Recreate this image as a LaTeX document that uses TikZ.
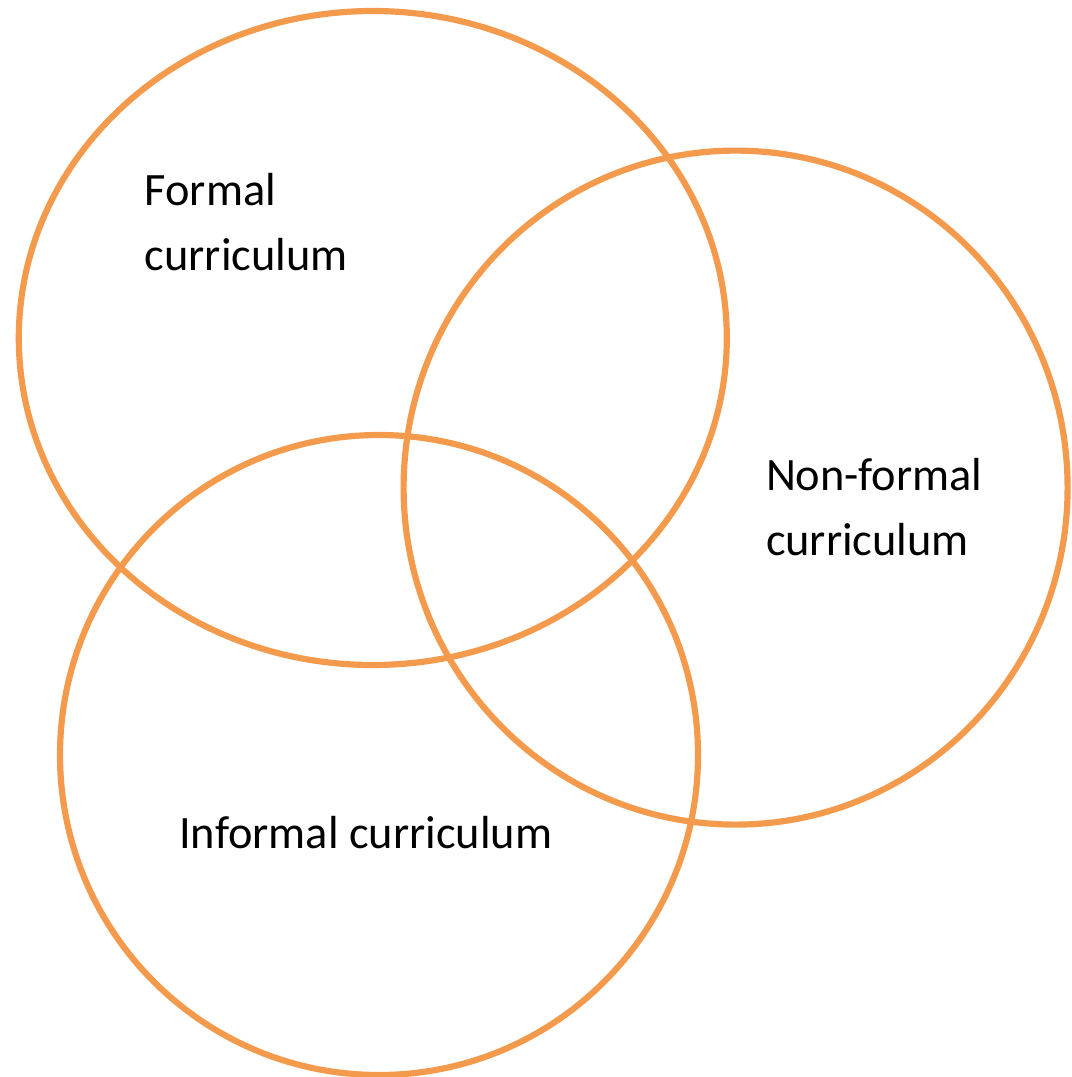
\documentclass[tikz,border=0pt]{standalone}
\usepackage{fontspec}
\setmainfont{Carlito}
\usetikzlibrary{shapes.geometric}
\definecolor{ringorange}{RGB}{243,154,77}

\begin{document}
\begin{tikzpicture}[
    ring/.style={ellipse, draw=ringorange, line width=4.4pt, inner sep=0pt, outer sep=0pt},
    label/.style={inner sep=0pt, outer sep=0pt, align=left, anchor=north west, font=\fontsize{33}{46}\selectfont},
]

    % canvas
    \useasboundingbox (0,0) rectangle (26.775,-26.925);

    % the three curricula
    \node (formal) [ring, minimum width=17.7cm, minimum height=16.35cm] at (9.32,-8.45) {};
    \node (nonformal) [ring, minimum width=16.6cm, minimum height=16.85cm] at (18.39,-12.19) {};
    \node (informal) [ring, minimum width=15.95cm, minimum height=16.0cm] at (9.475,-18.875) {};

    \node (formaltxt) [label] at (3.62,-4.33) {Formal\\curriculum};
    \node (nonformaltxt) [label] at (19.15,-11.46) {Non-formal\\curriculum};
    \node (informaltxt) [label] at (4.48,-20.41) {Informal curriculum};

\end{tikzpicture}
\end{document}
